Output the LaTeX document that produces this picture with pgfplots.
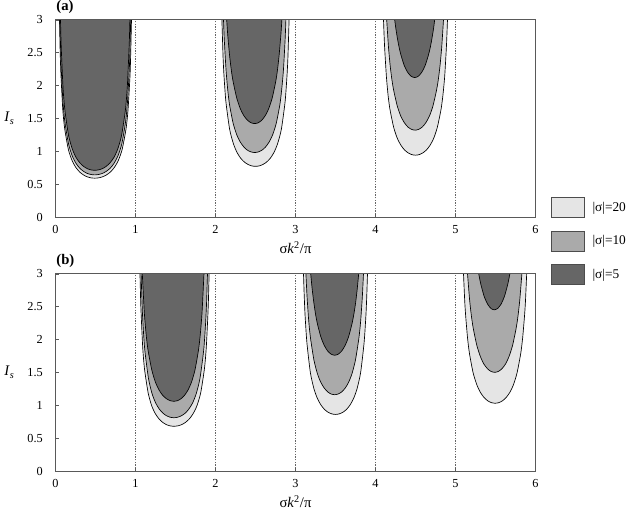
\documentclass[border=0pt]{standalone}
\usepackage{fontspec}
\setmainfont{Liberation Serif}
\usepackage{pgfplots}
\pgfplotsset{compat=1.18}
\definecolor{cL}{HTML}{E5E5E5}
\definecolor{cM}{HTML}{AAAAAA}
\definecolor{cD}{HTML}{666666}
\pgfplotsset{
 myax/.style={
  scale only axis, width=360pt, height=148pt,
  xmin=0,xmax=6,ymin=0,ymax=3,
  xtick={0,1,2,3,4,5,6}, ytick={0,0.5,1,1.5,2,2.5,3},
  tick pos=left, tick align=inside, major tick length=2.5pt,
  axis line style={black!65, line width=0.6pt},
  tick style={black!65},
  /pgf/number format/assume math mode=true,
  ticklabel style={font=\fontsize{9.2}{11}\selectfont},
  yticklabel style={xshift=-6pt},
  xticklabel style={yshift=-3pt},
  every axis x label/.style={at={(axis description cs:0.5,-0.157)},anchor=center,inner sep=0pt},
  every axis y label/.style={at={(axis description cs:-0.0958,0.5)},anchor=center,inner sep=0pt},
  label style={font=\fontsize{11}{13}\selectfont},
  xlabel={σ\textit{k}\textsuperscript{2}/π},
  ylabel={\textit{I}\textsubscript{\textit{s}}},
  every axis title/.style={at={(axis description cs:0,1)},anchor=west,inner sep=0pt,yshift=9.75pt,xshift=0.5pt,font=\bfseries\fontsize{11}{13}\selectfont},
  axis on top,
 },
 dl/.style={black!60, dash pattern=on 1pt off 1pt, line width=0.5pt, forget plot},
 fL/.style={fill=cL, draw=black, line width=0.5pt, smooth, tension=0.4, forget plot},
 fM/.style={fill=cM, draw=black, line width=0.5pt, smooth, tension=0.4, forget plot},
 fD/.style={fill=cD, draw=black, line width=0.5pt, smooth, tension=0.4, forget plot},
 legL/.style={legend image code/.code={\draw[fill=cL,draw=black!70,line width=0.5pt] (0pt,-7.5pt) rectangle (24.75pt,7.5pt);}},
 legM/.style={legend image code/.code={\draw[fill=cM,draw=black!70,line width=0.5pt] (0pt,-7.5pt) rectangle (24.75pt,7.5pt);}},
 legD/.style={legend image code/.code={\draw[fill=cD,draw=black!70,line width=0.5pt] (0pt,-7.5pt) rectangle (24.75pt,7.5pt);}},
}
\begin{document}
\begin{tikzpicture}
\path (-41.625pt,-29.25pt) rectangle (431.625pt,353.25pt);
% ---------------- panel (a)
\begin{axis}[myax, at={(0pt,190.5pt)}, anchor=origin, title={(a)},
  legend style={draw=none, fill=none, at={(rel axis cs:1.032,0.101)}, anchor=north west,
    inner sep=0pt, outer sep=0pt, row sep=9.75pt, column sep=6pt,
    nodes={inner sep=0pt, font=\fontsize{10}{12}\selectfont}},
  legend cell align=left]
\addplot[dl] coordinates {(1,0) (1,3)};
\addplot[dl] coordinates {(2,0) (2,3)};
\addplot[dl] coordinates {(3,0) (3,3)};
\addplot[dl] coordinates {(4,0) (4,3)};
\addplot[dl] coordinates {(5,0) (5,3)};
% lobe 1
\addplot[fL] coordinates {(0.05,3) (0.058,2.525) (0.068,2.162) (0.091,1.634) (0.115,1.342) (0.161,1.026) (0.208,0.856) (0.255,0.752) (0.302,0.684) (0.349,0.640) (0.396,0.611) (0.443,0.595) (0.49,0.59) (0.539,0.595) (0.588,0.611) (0.637,0.640) (0.686,0.684) (0.735,0.752) (0.784,0.856) (0.833,1.026) (0.882,1.342) (0.907,1.634) (0.932,2.162) (0.941,2.525) (0.95,3)};
\addplot[fM] coordinates {(0.055,3) (0.069,2.345) (0.092,1.772) (0.116,1.456) (0.163,1.112) (0.209,0.928) (0.256,0.816) (0.303,0.742) (0.350,0.694) (0.396,0.663) (0.443,0.646) (0.49,0.64) (0.538,0.646) (0.587,0.663) (0.635,0.694) (0.684,0.742) (0.732,0.816) (0.780,0.928) (0.829,1.112) (0.877,1.456) (0.901,1.772) (0.926,2.345) (0.94,3)};
\addplot[fD] coordinates {(0.0625,3) (0.071,2.602) (0.094,1.966) (0.118,1.616) (0.164,1.234) (0.211,1.030) (0.257,0.905) (0.304,0.824) (0.350,0.770) (0.397,0.735) (0.443,0.716) (0.49,0.71) (0.538,0.716) (0.586,0.735) (0.634,0.770) (0.682,0.824) (0.730,0.905) (0.777,1.030) (0.825,1.234) (0.873,1.616) (0.897,1.966) (0.921,2.602) (0.93,3)};
% lobe 2
\addplot[fL] coordinates {(2.08,3) (2.095,2.417) (2.107,2.132) (2.130,1.752) (2.176,1.338) (2.223,1.117) (2.269,0.981) (2.315,0.893) (2.361,0.835) (2.408,0.798) (2.454,0.777) (2.5,0.77) (2.546,0.777) (2.592,0.798) (2.639,0.835) (2.685,0.893) (2.731,0.981) (2.777,1.117) (2.824,1.338) (2.870,1.752) (2.893,2.132) (2.905,2.417) (2.92,3)};
\addplot[fM] coordinates {(2.10,3) (2.109,2.714) (2.132,2.230) (2.154,1.920) (2.176,1.703) (2.221,1.422) (2.266,1.249) (2.311,1.137) (2.356,1.062) (2.400,1.015) (2.445,0.989) (2.49,0.98) (2.535,0.989) (2.580,1.015) (2.624,1.062) (2.669,1.137) (2.714,1.249) (2.759,1.422) (2.804,1.703) (2.826,1.920) (2.849,2.230) (2.871,2.714) (2.88,3)};
\addplot[fD] coordinates {(2.14,3) (2.152,2.782) (2.175,2.468) (2.197,2.237) (2.220,2.060) (2.265,1.810) (2.310,1.647) (2.355,1.539) (2.400,1.471) (2.445,1.432) (2.49,1.42) (2.534,1.432) (2.578,1.471) (2.621,1.539) (2.665,1.647) (2.709,1.810) (2.753,2.060) (2.775,2.237) (2.796,2.468) (2.818,2.782) (2.83,3)};
% lobe 3
\addplot[fL] coordinates {(4.10,3) (4.113,2.603) (4.136,2.139) (4.158,1.842) (4.181,1.634) (4.227,1.364) (4.272,1.198) (4.318,1.090) (4.363,1.019) (4.409,0.974) (4.454,0.948) (4.5,0.94) (4.546,0.948) (4.591,0.974) (4.637,1.019) (4.682,1.090) (4.728,1.198) (4.773,1.364) (4.819,1.634) (4.842,1.842) (4.865,2.139) (4.887,2.603) (4.90,3)};
\addplot[fM] coordinates {(4.14,3) (4.162,2.586) (4.184,2.294) (4.206,2.079) (4.229,1.915) (4.273,1.683) (4.317,1.531) (4.362,1.431) (4.406,1.367) (4.451,1.332) (4.495,1.32) (4.539,1.332) (4.584,1.367) (4.628,1.431) (4.673,1.531) (4.717,1.683) (4.761,1.915) (4.784,2.079) (4.806,2.294) (4.828,2.586) (4.85,3)};
\addplot[fD] coordinates {(4.24,3) (4.254,2.868) (4.276,2.702) (4.297,2.568) (4.319,2.459) (4.361,2.298) (4.404,2.196) (4.447,2.138) (4.49,2.12) (4.533,2.138) (4.576,2.196) (4.619,2.298) (4.661,2.459) (4.683,2.568) (4.704,2.702) (4.726,2.868) (4.74,3)};
\addlegendimage{legL}\addlegendentry{|σ|=20}
\addlegendimage{legM}\addlegendentry{|σ|=10}
\addlegendimage{legD}\addlegendentry{|σ|=5}
\end{axis}
% ---------------- panel (b)
\begin{axis}[myax, at={(0pt,0pt)}, anchor=origin, title={(b)}]
\addplot[dl] coordinates {(1,0) (1,3)};
\addplot[dl] coordinates {(2,0) (2,3)};
\addplot[dl] coordinates {(3,0) (3,3)};
\addplot[dl] coordinates {(4,0) (4,3)};
\addplot[dl] coordinates {(5,0) (5,3)};
% lobe 1
\addplot[fL] coordinates {(1.056,3) (1.067,2.492) (1.090,1.883) (1.113,1.547) (1.159,1.182) (1.204,0.986) (1.250,0.867) (1.296,0.789) (1.342,0.737) (1.388,0.704) (1.434,0.686) (1.48,0.68) (1.528,0.686) (1.575,0.704) (1.623,0.737) (1.671,0.789) (1.718,0.867) (1.766,0.986) (1.814,1.182) (1.861,1.547) (1.885,1.883) (1.909,2.492) (1.92,3)};
\addplot[fM] coordinates {(1.07,3) (1.082,2.543) (1.093,2.243) (1.116,1.843) (1.162,1.408) (1.207,1.175) (1.253,1.032) (1.298,0.940) (1.344,0.878) (1.389,0.839) (1.435,0.817) (1.48,0.81) (1.527,0.817) (1.573,0.839) (1.620,0.878) (1.666,0.940) (1.713,1.032) (1.759,1.175) (1.806,1.408) (1.853,1.843) (1.876,2.243) (1.888,2.543) (1.90,3)};
\addplot[fD] coordinates {(1.085,3) (1.110,2.412) (1.133,2.077) (1.156,1.843) (1.203,1.538) (1.249,1.351) (1.295,1.230) (1.341,1.149) (1.388,1.098) (1.434,1.069) (1.48,1.06) (1.524,1.069) (1.568,1.098) (1.612,1.149) (1.656,1.230) (1.700,1.351) (1.744,1.538) (1.788,1.843) (1.810,2.077) (1.832,2.412) (1.856,3)};
% lobe 2
\addplot[fL] coordinates {(3.10,3) (3.108,2.700) (3.119,2.381) (3.142,1.957) (3.186,1.495) (3.231,1.248) (3.276,1.096) (3.321,0.998) (3.366,0.932) (3.410,0.891) (3.455,0.868) (3.5,0.86) (3.545,0.868) (3.590,0.891) (3.634,0.932) (3.679,0.998) (3.724,1.096) (3.769,1.248) (3.814,1.495) (3.858,1.957) (3.881,2.381) (3.892,2.700) (3.90,3)};
\addplot[fM] coordinates {(3.13,3) (3.145,2.639) (3.166,2.272) (3.188,2.016) (3.231,1.683) (3.274,1.479) (3.317,1.346) (3.361,1.258) (3.404,1.201) (3.447,1.170) (3.49,1.16) (3.533,1.170) (3.576,1.201) (3.620,1.258) (3.663,1.346) (3.706,1.479) (3.749,1.683) (3.792,2.016) (3.814,2.272) (3.835,2.639) (3.85,3)};
\addplot[fD] coordinates {(3.19,3) (3.208,2.772) (3.230,2.553) (3.251,2.381) (3.273,2.243) (3.316,2.042) (3.360,1.908) (3.403,1.823) (3.447,1.775) (3.49,1.76) (3.533,1.775) (3.577,1.823) (3.620,1.908) (3.664,2.042) (3.707,2.243) (3.729,2.381) (3.751,2.553) (3.772,2.772) (3.79,3)};
% lobe 3
\addplot[fL] coordinates {(5.10,3) (5.116,2.566) (5.128,2.344) (5.151,2.018) (5.174,1.790) (5.220,1.494) (5.266,1.313) (5.311,1.195) (5.357,1.117) (5.403,1.067) (5.449,1.039) (5.495,1.03) (5.541,1.039) (5.587,1.067) (5.633,1.117) (5.679,1.195) (5.725,1.313) (5.770,1.494) (5.816,1.790) (5.839,2.018) (5.862,2.344) (5.874,2.566) (5.89,3)};
\addplot[fM] coordinates {(5.15,3) (5.176,2.607) (5.198,2.363) (5.221,2.176) (5.266,1.912) (5.311,1.740) (5.355,1.626) (5.400,1.554) (5.445,1.513) (5.49,1.50) (5.535,1.513) (5.580,1.554) (5.625,1.626) (5.669,1.740) (5.714,1.912) (5.759,2.176) (5.782,2.363) (5.804,2.607) (5.83,3)};
\addplot[fD] coordinates {(5.29,3) (5.316,2.842) (5.358,2.656) (5.401,2.538) (5.443,2.471) (5.485,2.45) (5.527,2.471) (5.570,2.538) (5.612,2.656) (5.654,2.842) (5.68,3)};
\end{axis}
\end{tikzpicture}
\end{document}
